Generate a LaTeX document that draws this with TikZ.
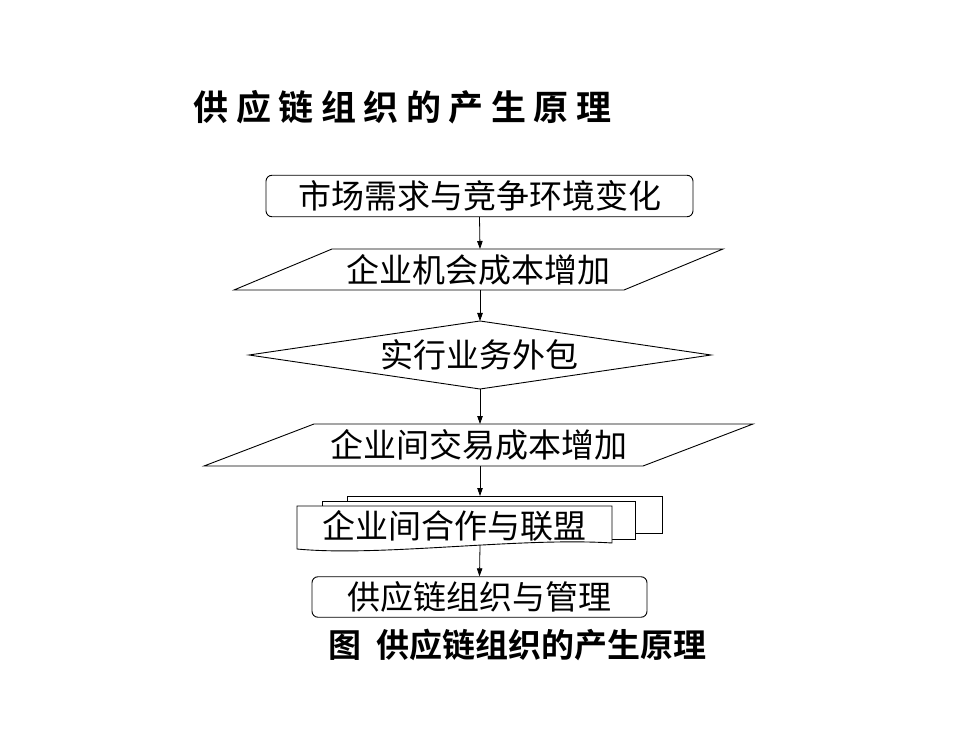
\documentclass[tikz,border=0pt]{standalone}
\usepackage{fontspec}
\usetikzlibrary{arrows.meta}
\newfontfamily\cjk{Noto Sans CJK SC}[BoldFont={Noto Sans CJK SC Bold}]
\begin{document}
\begin{tikzpicture}[x=1pt,y=-1pt,
  txt/.style={font=\cjk\fontsize{33}{37}\selectfont, inner sep=0pt},
  boxr/.style={draw, rounded corners=6pt, line width=0.9pt, inner sep=0pt},
  shp/.style={draw, line width=0.9pt, fill=white},
  arr/.style={-{Triangle[length=8pt,width=5.5pt]}, line width=0.8pt}]
\path[use as bounding box] (0,0) rectangle (980,735);

% title
\node[inner sep=0pt, font=\cjk\bfseries\fontsize{35}{39}\selectfont] (title) at (402.5,107)
  {供\hskip7.5pt 应\hskip7.5pt 链\hskip7.5pt 组\hskip7.5pt 织\hskip7.5pt 的\hskip7.5pt 产\hskip7.5pt 生\hskip7.5pt 原\hskip7.5pt 理};

% top box
\node[boxr, txt, minimum width=427pt, minimum height=41.5pt] (top) at (479.5,196) {市场需求与竞争环境变化};

% parallelogram 1
\draw[shp] (332,249) -- (723,249) -- (624,290) -- (234,290) -- cycle;
\coordinate (p1n) at (480,249);
\coordinate (p1s) at (480,290);
\node[txt] (p1t) at (478.5,269.5) {企业机会成本增加};

% diamond
\draw[shp] (249,355) -- (480,321) -- (711,355) -- (480,389) -- cycle;
\coordinate (dn) at (480,321);
\coordinate (ds) at (480,389);
\node[txt] (dt) at (479,355) {实行业务外包};

% parallelogram 2
\draw[shp] (314,424) -- (753,424) -- (643,466) -- (204,466) -- cycle;
\coordinate (p2n) at (480,424);
\coordinate (p2s) at (480,466);
\node[txt] (p2t) at (478.5,445) {企业间交易成本增加};

% multi-document
\draw[shp] (347,496) rectangle (662,533);
\draw[shp] (322,501) rectangle (635,539);
\draw[shp] (297,506) -- (612,506) -- (612,543)
  .. controls (520,537) and (380,557) .. (297,549) -- cycle;
\coordinate (mdn) at (480,496);
\coordinate (mds) at (480,545.5);
\node[txt] (mdt) at (454,526) {企业间合作与联盟};

% final box
\node[boxr, txt, minimum width=335pt, minimum height=40.5pt] (fin) at (479.5,597) {供应链组织与管理};

% caption
\node[inner sep=0pt, font=\cjk\bfseries\fontsize{33}{37}\selectfont] (cap) at (517.5,645)
  {图\hskip15pt 供应链组织的产生原理};

% connectors
\draw[arr] (top.south) -- (p1n);
\draw[arr] (p1s) -- (dn);
\draw[arr] (ds) -- (p2n);
\draw[arr] (p2s) -- (mdn);
\draw[arr] (mds) -- (fin.north);
\end{tikzpicture}
\end{document}
